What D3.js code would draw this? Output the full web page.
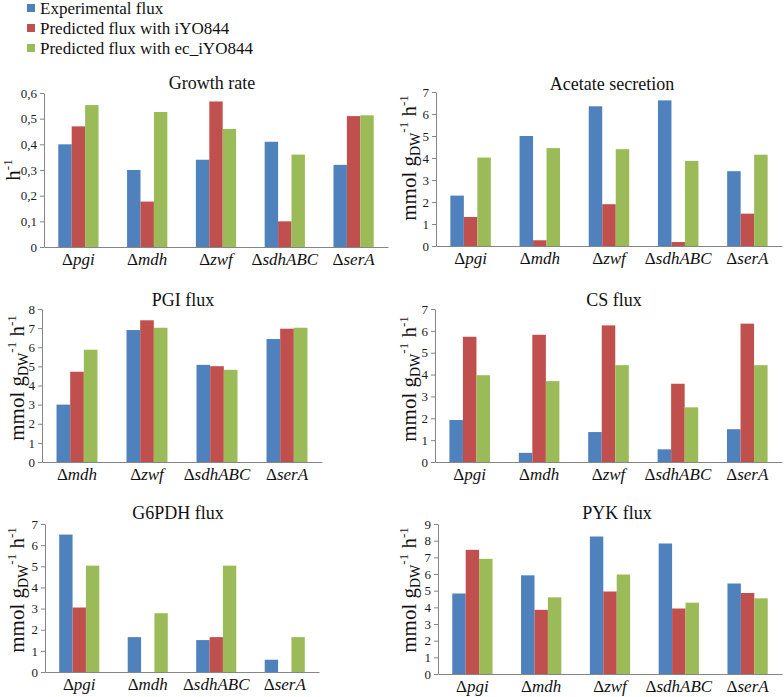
<!DOCTYPE html>
<html><head><meta charset="utf-8">
<script src="https://cdn.jsdelivr.net/npm/d3@7"></script>
<style>
html,body{margin:0;padding:0;background:#fff;}
svg{display:block;}
svg text{font-family:"Liberation Serif","Times New Roman",serif !important;}
</style></head>
<body>
<script>
// ---- data ----
const seriesNames = ["Experimental flux", "Predicted flux with iYO844", "Predicted flux with ec_iYO844"];
const seriesColors = ["#4F81BD", "#C0504D", "#9BBB59"];

const growthCats = ["pgi", "mdh", "zwf", "sdhABC", "serA"];
const growthExp  = [0.40, 0.30, 0.34, 0.41, 0.32];
const growthIYO  = [0.47, 0.177, 0.567, 0.10, 0.51];
const growthEc   = [0.553, 0.526, 0.46, 0.36, 0.513];
const growthTicks = [0, 0.1, 0.2, 0.3, 0.4, 0.5, 0.6];

const acetateCats = ["pgi", "mdh", "zwf", "sdhABC", "serA"];
const acetateExp  = [2.29, 5.0, 6.35, 6.62, 3.40];
const acetateIYO  = [1.32, 0.26, 1.90, 0.18, 1.47];
const acetateEc   = [4.02, 4.45, 4.40, 3.87, 4.15];
const acetateTicks = [0, 1, 2, 3, 4, 5, 6, 7];

const pgiCats = ["mdh", "zwf", "sdhABC", "serA"];
const pgiExp  = [3.0, 6.9, 5.08, 6.43];
const pgiIYO  = [4.72, 7.41, 5.01, 6.97];
const pgiEc   = [5.87, 7.02, 4.82, 7.02];
const pgiTicks = [0, 1, 2, 3, 4, 5, 6, 7, 8];

const csCats = ["pgi", "mdh", "zwf", "sdhABC", "serA"];
const csExp  = [1.92, 0.42, 1.37, 0.58, 1.50];
const csIYO  = [5.73, 5.82, 6.25, 3.58, 6.33];
const csEc   = [3.97, 3.70, 4.43, 2.50, 4.43];
const csTicks = [0, 1, 2, 3, 4, 5, 6, 7];

const g6pdhCats = ["pgi", "mdh", "sdhABC", "serA"];
const g6pdhExp  = [6.50, 1.65, 1.51, 0.58];
const g6pdhIYO  = [3.05, 0, 1.65, 0];
const g6pdhEc   = [5.03, 2.78, 5.03, 1.65];
const g6pdhTicks = [0, 1, 2, 3, 4, 5, 6, 7];

const pykCats = ["pgi", "mdh", "zwf", "sdhABC", "serA"];
const pykExp  = [4.83, 5.92, 8.25, 7.83, 5.43];
const pykIYO  = [7.45, 3.85, 4.95, 3.93, 4.86];
const pykEc   = [6.91, 4.60, 5.97, 4.28, 4.54];
const pykTicks = [0, 1, 2, 3, 4, 5, 6, 7, 8, 9];

// ---- layout ----
const W = 784, H = 697;
const FONT = '"Liberation Serif","Times New Roman",serif';
const svg = d3.select("body").append("svg").attr("width", W).attr("height", H)
  .style("font-family", FONT);

const panels = [
  {title: "Growth rate", cats: growthCats, vals: [growthExp, growthIYO, growthEc], ticks: growthTicks, unit: "h",
   x0: 44, x1: 388, yTop: 93, yBot: 247, tx: 212, ty: 89, lx: 20, ly: 170, comma: true},
  {title: "Acetate secretion", cats: acetateCats, vals: [acetateExp, acetateIYO, acetateEc], ticks: acetateTicks, unit: "mmol",
   x0: 436, x1: 782, yTop: 92, yBot: 246, tx: 612, ty: 90, lx: 416, ly: 158},
  {title: "PGI flux", cats: pgiCats, vals: [pgiExp, pgiIYO, pgiEc], ticks: pgiTicks, unit: "mmol",
   x0: 42, x1: 322, yTop: 309, yBot: 462, tx: 183, ty: 306, lx: 24, ly: 378},
  {title: "CS flux", cats: csCats, vals: [csExp, csIYO, csEc], ticks: csTicks, unit: "mmol",
   x0: 435, x1: 782, yTop: 309, yBot: 462, tx: 614, ty: 306, lx: 416, ly: 379},
  {title: "G6PDH flux", cats: g6pdhCats, vals: [g6pdhExp, g6pdhIYO, g6pdhEc], ticks: g6pdhTicks, unit: "mmol",
   x0: 45, x1: 319, yTop: 524, yBot: 672, tx: 178, ty: 519, lx: 24, ly: 590},
  {title: "PYK flux", cats: pykCats, vals: [pykExp, pykIYO, pykEc], ticks: pykTicks, unit: "mmol",
   x0: 438, x1: 782, yTop: 524, yBot: 674, tx: 617, ty: 519, lx: 416, ly: 590}
];

const axisColor = "#858585";

panels.forEach(p => {
  const g = svg.append("g");
  const x = d3.scaleBand().domain(p.cats).range([p.x0, p.x1]).padding(0);
  const y = d3.scaleLinear().domain([0, d3.max(p.ticks)]).range([p.yBot, p.yTop]);
  const gw = x.bandwidth() * 0.585;
  const xs = d3.scaleBand().domain(d3.range(3)).range([0, gw]).padding(0);

  // bars
  p.cats.forEach((c, i) => {
    const cx = x(c) + x.bandwidth() / 2 - gw / 2;
    p.vals.forEach((arr, s) => {
      const v = arr[i];
      if (v <= 0) return;
      g.append("rect")
        .attr("x", cx + xs(s))
        .attr("y", y(v))
        .attr("width", xs.bandwidth())
        .attr("height", y(0) - y(v))
        .attr("fill", seriesColors[s]);
    });
  });

  // y axis
  const fmt = p.comma ? (d => d === 0 ? "0" : d3.format(".1f")(d).replace(".", ",")) : d3.format("d");
  const ya = g.append("g").attr("transform", `translate(${p.x0},0)`)
    .call(d3.axisLeft(y).tickValues(p.ticks).tickSizeInner(4).tickSizeOuter(0).tickPadding(3).tickFormat(fmt));
  ya.attr("font-family", null).style("font-family", FONT);
  ya.select(".domain").attr("stroke", axisColor);
  ya.selectAll(".tick line").attr("stroke", axisColor);
  ya.selectAll(".tick text").attr("font-size", 13).attr("fill", "#1a1a1a").style("font-family", FONT);

  // x axis
  const xa = g.append("g").attr("transform", `translate(0,${p.yBot})`)
    .call(d3.axisBottom(x).tickSize(0).tickFormat(""));
  xa.select(".domain").attr("stroke", axisColor);

  // category labels
  p.cats.forEach(c => {
    const t = g.append("text")
      .attr("x", x(c) + x.bandwidth() / 2)
      .attr("y", p.yBot + 18)
      .attr("text-anchor", "middle")
      .attr("font-size", 17)
      .attr("fill", "#111")
      .style("font-family", FONT);
    t.append("tspan").text("\u0394");
    t.append("tspan").attr("font-style", "italic").text(c);
  });

  // title
  g.append("text").attr("x", p.tx).attr("y", p.ty).attr("text-anchor", "middle")
    .attr("font-size", 18).attr("fill", "#111").style("font-family", FONT).text(p.title);

  // y label
  const yl = g.append("text")
    .attr("transform", `translate(${p.lx},${p.ly}) rotate(-90)`)
    .attr("text-anchor", "middle")
    .attr("font-size", 21)
    .attr("fill", "#111")
    .style("font-family", FONT);
  if (p.unit === "h") {
    yl.append("tspan").text("h");
    yl.append("tspan").attr("font-size", 13).attr("dy", -8).text("-1");
  } else {
    yl.append("tspan").text("mmol g");
    yl.append("tspan").attr("font-size", 14).attr("dy", 4).text("DW");
    yl.append("tspan").attr("font-size", 13).attr("dy", -12).text("-1");
    yl.append("tspan").attr("dy", 8).text(" h");
    yl.append("tspan").attr("font-size", 13).attr("dy", -8).text("-1");
  }
});

// legend
const legend = svg.append("g");
seriesNames.forEach((n, i) => {
  const yy = 8 + i * 20;
  legend.append("rect").attr("x", 27).attr("y", yy - 4).attr("width", 8).attr("height", 8).attr("fill", seriesColors[i]);
  legend.append("text").attr("x", 40).attr("y", yy + 5.5).attr("font-size", 17).attr("fill", "#111")
    .style("font-family", FONT).text(n);
});
</script>
</body></html>
